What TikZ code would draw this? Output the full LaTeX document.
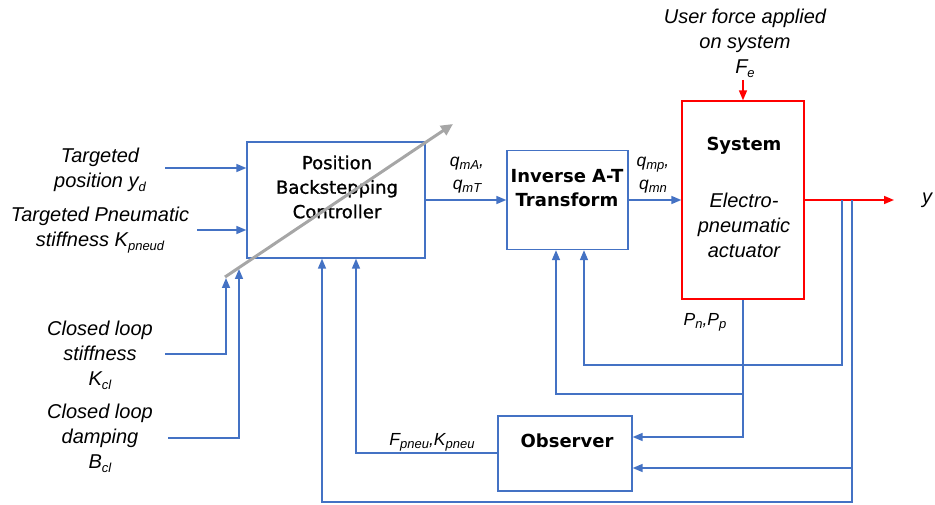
\documentclass[tikz,border=0pt]{standalone}
\usepackage{fontspec}
\setmainfont{Liberation Sans}
\newfontfamily\dv{DejaVu Sans}
\newfontfamily\dvm{DejaVu Sans}[FakeBold=1.2]
\usetikzlibrary{arrows.meta}
\definecolor{bl}{RGB}{68,114,196}
\definecolor{rd}{RGB}{255,0,0}
\definecolor{gr}{RGB}{166,166,166}
\newcommand\sbs[1]{\raisebox{-0.35ex}{\fontsize{13}{13}\selectfont #1}}
\begin{document}
\begin{tikzpicture}[x=1pt,y=-1pt,
  box/.style={draw=bl, line width=1.3pt, inner sep=0pt},
  rbox/.style={draw=rd, line width=1.3pt, inner sep=0pt},
  ttl/.style={font=\dv\bfseries\fontsize{18}{24}\selectfont, align=center, inner sep=0pt},
  lbl/.style={font=\itshape\fontsize{20}{25}\selectfont, align=center, inner sep=0pt},
  slbl/.style={font=\itshape\fontsize{17.5}{23}\selectfont, align=center, inner sep=0pt},
  arr/.style={draw=bl, line width=1.6pt, -{Triangle[length=10pt,width=8pt]}},
  ln/.style={draw=bl, line width=1.6pt},
  rarr/.style={draw=rd, line width=1.6pt, -{Triangle[length=10pt,width=8pt]}},
  garr/.style={draw=gr, line width=3pt, -{Triangle[length=12pt,width=11pt]}}]
\useasboundingbox (0,0) rectangle (935,505);

% boxes
\node[box, minimum width=178pt, minimum height=116pt] (ctrl) at (336,200) {};
\node[box, minimum width=121pt, minimum height=99pt] (at) at (567.5,200) {};
\node[rbox, minimum width=122pt, minimum height=198pt] (sys) at (743,200) {};
\node[box, minimum width=134pt, minimum height=75pt] (obs) at (565,453.5) {};

% box titles
\node[ttl, font=\dvm\fontsize{18}{24.5}\selectfont] (ctrlT) at (337,187) {Position\\Backstepping\\Controller};
\node[ttl] (atT) at (567,188) {Inverse A-T\\Transform};
\node[ttl] (sysT) at (744,146) {System};
\node[lbl] (sysS) at (744,225) {Electro-\\pneumatic\\actuator};
\node[ttl] (obsT) at (567,441) {Observer};

% input labels
\node[lbl] (tyd) at (100,170) {Targeted\\position \textit{y}\sbs{\textit{d}}};
\node[lbl] (tkp) at (100,230) {Targeted Pneumatic\\stiffness \textit{K}\sbs{\textit{pneud}}};
\node[lbl] (tkc) at (100,355) {Closed loop\\stiffness\\\textit{K}\sbs{\textit{cl}}};
\node[lbl] (tbc) at (100,438) {Closed loop\\damping\\\textit{B}\sbs{\textit{cl}}};
\node[lbl] (fe) at (745,43) {User force applied\\on system\\\textit{F}\sbs{\textit{e}}};
\node[lbl] (yout) at (927,200) {y};

% signal labels
\node[slbl] (qA) at (467,175) {\textit{q}\sbs{\textit{mA}},\\\textit{q}\sbs{\textit{mT}}};
\node[slbl] (qp) at (653,175) {\textit{q}\sbs{\textit{mp}},\\\textit{q}\sbs{\textit{mn}}};
\node[slbl] (pnp) at (705,322) {\textit{P}\sbs{\textit{n}},\textit{P}\sbs{\textit{p}}};
\node[slbl] (fk) at (432,442) {\textit{F}\sbs{\textit{pneu}},\textit{K}\sbs{\textit{pneu}}};

% coordinates
\coordinate (ydS) at (165,168);
\coordinate (kpS) at (197,230);
\coordinate (kcS) at (165,354);
\coordinate (kcC) at (226,354);
\coordinate (kcT) at (226,278);
\coordinate (bcS) at (168,438);
\coordinate (bcC) at (239,438);
\coordinate (bcT) at (239,269);
\coordinate (gA) at (225,277);
\coordinate (gB) at (453,124);
\coordinate (feS) at (743,80);
\coordinate (yE) at (894,200);
\coordinate (j1) at (842,200);
\coordinate (j2) at (852,200);
\coordinate (j1b) at (842,365);
\coordinate (a2b) at (584,365);
\coordinate (pA) at (743,394);
\coordinate (pB) at (743,437);
\coordinate (a1b) at (556,394);
\coordinate (j2b) at (852,502);
\coordinate (j2m) at (852,468);
\coordinate (c1b) at (322,502);
\coordinate (c2b) at (356,453);

% forward path
\draw[arr] (ydS) -- (ydS -| ctrl.west);
\draw[arr] (kpS) -- (kpS -| ctrl.west);
\draw[arr] (ctrl.east) -- (ctrl.east -| at.west);
\draw[arr] (at.east) -- (at.east -| sys.west);
\draw[rarr] (sys.east) -- (yE);
\draw[rarr] (feS) -- (sys.north);

% gain inputs
\draw[arr] (kcS) -- (kcC) -- (kcT);
\draw[arr] (bcS) -- (bcC) -- (bcT);
\draw[garr] (gA) -- (gB);

% feedback
\draw[arr] (j1) -- (j1b) -- (a2b) -- (a2b |- at.south);
\draw[arr] (sys.south) -- (pB) -- (pB -| obs.east);
\draw[arr] (pA) -- (a1b) -- (a1b |- at.south);
\draw[arr] (j2) -- (j2b) -- (c1b) -- (c1b |- ctrl.south);
\draw[arr] (j2m) -- (j2m -| obs.east);
\draw[arr] (obs.west |- c2b) -- (c2b) -- (c2b |- ctrl.south);
\end{tikzpicture}
\end{document}
